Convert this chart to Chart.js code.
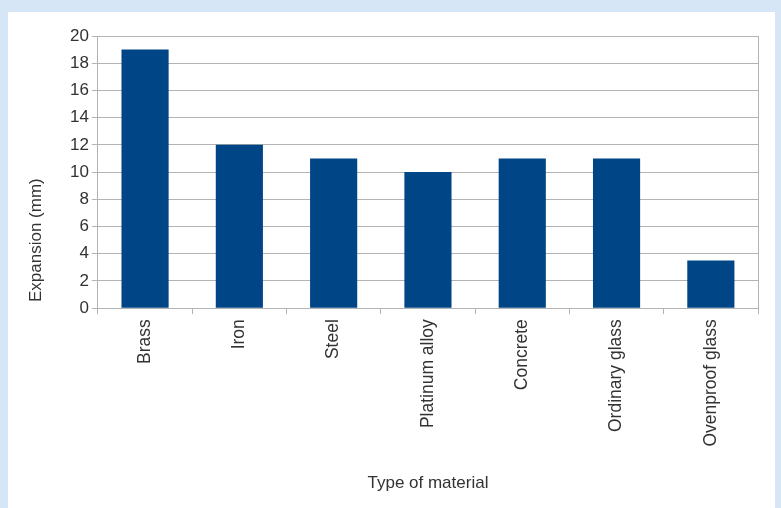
<!DOCTYPE html>
<html><head><meta charset="utf-8">
<script src="https://cdn.jsdelivr.net/npm/chart.js@4/dist/chart.umd.min.js"></script>
<style>
html,body{margin:0;padding:0;background:#d6e6f6;width:781px;height:508px;overflow:hidden}
#panel{position:absolute;left:8px;top:12px;width:767px;height:496px;background:#fff}
canvas{position:absolute;left:0;top:0;display:block}
</style></head><body>
<div id="panel"></div><canvas id="c" width="781" height="508"></canvas>
<script>
const categories = ["Brass","Iron","Steel","Platinum alloy","Concrete","Ordinary glass","Ovenproof glass"];
const expansion = [19,12,11,10,11,11,3.5];
const yTicks = [0,2,4,6,8,10,12,14,16,18,20];
const yTitle = 'Expansion (mm)';
const xTitle = 'Type of material';

const frame = {
  id:'frame',
  afterDatasetsDraw(chart){
    const a = chart.chartArea, ctx = chart.ctx;
    ctx.save();
    ctx.strokeStyle = '#b3b3b3';
    ctx.lineWidth = 1;
    ctx.beginPath();
    ctx.moveTo(Math.round(a.right)+0.5, a.top);
    ctx.lineTo(Math.round(a.right)+0.5, a.bottom+6);
    ctx.stroke();
    // y-axis title, placed as in the reference (lower than centred)
    ctx.translate(a.left - 62, a.bottom - 68);
    ctx.rotate(-Math.PI/2);
    ctx.fillStyle = '#333';
    ctx.font = '17px "Liberation Sans"';
    ctx.textAlign = 'center';
    ctx.textBaseline = 'middle';
    ctx.fillText(yTitle, 0, 0);
    ctx.restore();
  }
};

new Chart(document.getElementById('c'), {
  type:'bar',
  data:{labels:categories, datasets:[{data:expansion, backgroundColor:'#004586', borderWidth:0, categoryPercentage:1, barPercentage:0.5}]},
  options:{
    responsive:false, animation:false,
    layout:{padding:{top:36, right:23, left:67, bottom:14}},
    plugins:{legend:{display:false}, tooltip:{enabled:false}},
    scales:{
      x:{
        grid:{drawOnChartArea:false, drawTicks:true, tickLength:6, color:'#b3b3b3', offset:true},
        border:{color:'#b3b3b3'},
        ticks:{color:'#333', font:{family:'Liberation Sans', size:17.5}, minRotation:90, maxRotation:90, padding:5},
        title:{display:true, text:xTitle, color:'#333', font:{family:'Liberation Sans', size:17}, padding:{top:22, bottom:0}}
      },
      y:{
        min:0, max:20,
        afterBuildTicks(s){ s.ticks = yTicks.map(v=>({value:v})); },
        grid:{color:'#b3b3b3', tickLength:6},
        border:{color:'#b3b3b3'},
        ticks:{color:'#333', font:{family:'Liberation Sans', size:17}, padding:3},
        title:{display:false}
      }
    }
  },
  plugins:[frame]
});
</script>
</body></html>
